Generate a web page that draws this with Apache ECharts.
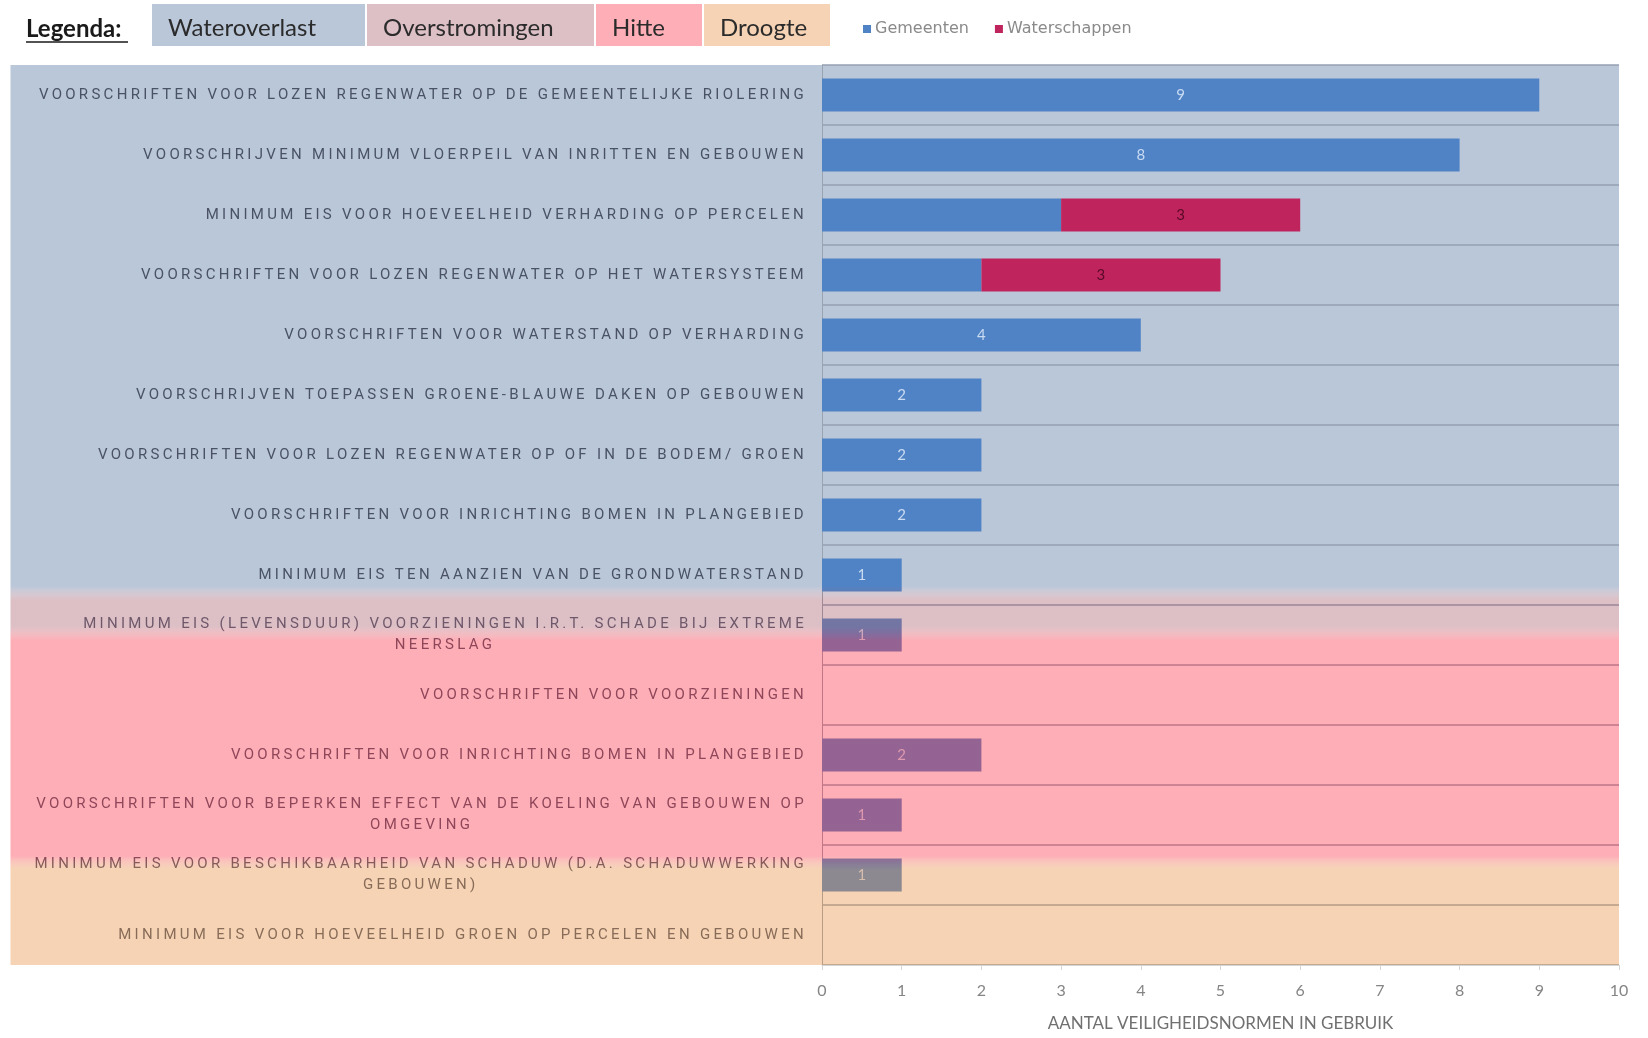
<!DOCTYPE html>
<html>
<head>
<meta charset="utf-8">
<script src="https://cdn.jsdelivr.net/npm/echarts@6/dist/echarts.min.js"></script>
<style>
  html, body { margin: 0; padding: 0; background: #ffffff; }
  #chart { width: 1648px; height: 1038px; }
</style>
</head>
<body>
<div id="chart"></div>
<script>
// ---- data ---------------------------------------------------------------
const categories = [
  'VOORSCHRIFTEN VOOR LOZEN REGENWATER OP DE GEMEENTELIJKE RIOLERING',
  'VOORSCHRIJVEN MINIMUM VLOERPEIL VAN INRITTEN EN GEBOUWEN',
  'MINIMUM EIS VOOR HOEVEELHEID VERHARDING OP PERCELEN',
  'VOORSCHRIFTEN VOOR LOZEN REGENWATER OP HET WATERSYSTEEM',
  'VOORSCHRIFTEN VOOR WATERSTAND OP VERHARDING',
  'VOORSCHRIJVEN TOEPASSEN GROENE-BLAUWE DAKEN OP GEBOUWEN',
  'VOORSCHRIFTEN VOOR LOZEN REGENWATER OP OF IN DE BODEM/ GROEN',
  'VOORSCHRIFTEN VOOR INRICHTING BOMEN IN PLANGEBIED',
  'MINIMUM EIS TEN AANZIEN VAN DE GRONDWATERSTAND',
  'MINIMUM EIS (LEVENSDUUR) VOORZIENINGEN I.R.T. SCHADE BIJ EXTREME NEERSLAG',
  'VOORSCHRIFTEN VOOR VOORZIENINGEN',
  'VOORSCHRIFTEN VOOR INRICHTING BOMEN IN PLANGEBIED',
  'VOORSCHRIFTEN VOOR BEPERKEN EFFECT VAN DE KOELING VAN GEBOUWEN OP OMGEVING',
  'MINIMUM EIS VOOR BESCHIKBAARHEID VAN SCHADUW (D.A. SCHADUWWERKING GEBOUWEN)',
  'MINIMUM EIS VOOR HOEVEELHEID GROEN OP PERCELEN EN GEBOUWEN'
];
const gemeenten     = [9, 8, 3, 2, 4, 2, 2, 2, 1, 1, 0, 2, 1, 1, 0];
const waterschappen = [0, 0, 3, 3, 0, 0, 0, 0, 0, 0, 0, 0, 0, 0, 0];
const seriesNames = ['Gemeenten', 'Waterschappen'];
const xMin = 0, xMax = 10, xStep = 1;
const xAxisTitle = 'AANTAL VEILIGHEIDSNORMEN IN GEBRUIK';

// climate themes and the rows (in category units) each one spans
const themeNames = ['Wateroverlast', 'Overstromingen', 'Hitte', 'Droogte'];
const themeRows  = [[0, 8.8], [8.8, 9.47], [9.47, 13.3], [13.3, 15]];
const legendTitle = 'Legenda:';

// ---- styling ------------------------------------------------------------
const themeFill  = ['#BAC7D9', 'rgba(167,97,112,0.4)', 'rgba(250,52,72,0.4)', 'rgba(230,145,67,0.4)'];
const themeOnTop = [false, true, true, true];
const barColors  = ['#5083C5', '#C0245C'];
const LABEL_FAMILY = 'Roboto';     // tracked-out category label face
const TRACKING = { 'Roboto': '3.3px' };

// Category labels are set in widely tracked capitals: give that face
// letter spacing for both measuring and drawing on canvas.
(function () {
  const proto = CanvasRenderingContext2D.prototype;
  if (!('letterSpacing' in proto)) return;
  const fill = proto.fillText, measure = proto.measureText;
  const track = function (ctx) {
    let ls = '0px';
    for (const fam in TRACKING) {
      if (ctx.font.indexOf(fam) >= 0) { ls = TRACKING[fam]; break; }
    }
    ctx.letterSpacing = ls;
  };
  proto.fillText = function () { track(this); return fill.apply(this, arguments); };
  proto.measureText = function () { track(this); return measure.apply(this, arguments); };
})();

// greedy word wrap at a fixed number of characters per line
function wrapLabel(text, maxChars) {
  const words = text.split(' ');
  const lines = [];
  let cur = '';
  words.forEach(function (w) {
    if (cur && (cur + ' ' + w).length > maxChars) { lines.push(cur); cur = w; }
    else { cur = cur ? cur + ' ' + w : w; }
  });
  if (cur) lines.push(cur);
  return lines;
}

const chart = echarts.init(document.getElementById('chart'), null, { renderer: 'canvas' });

const option = {
  animation: false,
  backgroundColor: '#ffffff',
  textStyle: { fontFamily: 'Lato' },
  legend: {
    data: seriesNames,
    left: 858, top: 16,
    icon: 'rect', itemWidth: 8, itemHeight: 8, itemGap: 26,
    textStyle: { color: '#8a8a8a', fontSize: 16, fontFamily: 'DejaVu Sans', padding: [0, 0, 0, -1] }
  },
  grid: { left: 822, right: 29, top: 65, bottom: 73, containLabel: false },
  xAxis: {
    type: 'value', min: xMin, max: xMax, interval: xStep,
    name: xAxisTitle, nameLocation: 'middle', nameGap: 50,
    nameTextStyle: { color: '#707070', fontSize: 17, fontFamily: 'Lato' },
    axisLine: { show: true, lineStyle: { color: '#d4d4d4' } },
    axisTick: { show: true, length: 5, lineStyle: { color: '#d4d4d4' } },
    axisLabel: { color: '#858585', fontSize: 16, margin: 18, fontFamily: 'Lato' },
    splitLine: { show: false }
  },
  yAxis: {
    type: 'category', inverse: true, data: categories,
    axisLine: { show: true, lineStyle: { color: '#9aa3b0' } },
    axisTick: { show: false },
    splitLine: { show: true, lineStyle: { color: '#95a0b1', width: 1.5 } },
    axisLabel: {
      interval: 0, margin: 15, align: 'right',
      fontFamily: LABEL_FAMILY, fontSize: 15, color: '#4a5366', lineHeight: 21,
      formatter: function (v) {
        return wrapLabel(v, 66).map(function (l) { return '{c|' + l + '}'; }).join('\n');
      },
      rich: {
        c: { align: 'center', fontFamily: LABEL_FAMILY, fontSize: 15, color: '#4a5366', lineHeight: 21 }
      }
    }
  },
  series: [
    {
      name: seriesNames[0], type: 'bar', stack: 'total', data: gemeenten,
      barWidth: 33, itemStyle: { color: barColors[0] },
      label: {
        show: true, position: 'inside', color: '#c9dbf2', fontSize: 15, fontFamily: 'Lato',
        formatter: function (p) {
          return (p.value === 0 || waterschappen[p.dataIndex] > 0) ? '' : String(p.value);
        }
      }
    },
    {
      name: seriesNames[1], type: 'bar', stack: 'total', data: waterschappen,
      barWidth: 33, itemStyle: { color: barColors[1] },
      label: {
        show: true, position: 'inside', color: '#5a0a28', fontSize: 15, fontFamily: 'Lato',
        formatter: function (p) { return p.value ? String(p.value) : ''; }
      }
    }
  ]
};
chart.setOption(option);

// ---- theme bands and the theme key ----------------------------------------
function bandFill(color, h, fadeTop, fadeBottom) {
  const clear = color.indexOf('rgba') === 0 ? color.replace(/[\d.]+\)$/, '0)') : 'rgba(186,199,217,0)';
  const stops = [];
  stops.push({ offset: 0, color: fadeTop ? clear : color });
  if (fadeTop) stops.push({ offset: fadeTop / h, color: color });
  if (fadeBottom) stops.push({ offset: 1 - fadeBottom / h, color: color });
  stops.push({ offset: 1, color: fadeBottom ? clear : color });
  return new echarts.graphic.LinearGradient(0, 0, 0, 1, stops);
}

function drawThemes() {
  const y0 = chart.convertToPixel({ yAxisIndex: 0 }, 0);
  const y1 = chart.convertToPixel({ yAxisIndex: 0 }, 1);
  const rowH = Math.abs(y1 - y0);
  const top = y0 - rowH / 2;
  const right = chart.convertToPixel({ xAxisIndex: 0 }, xMax);
  const left = 10.5;
  const fade = 14;
  const elements = [];

  themeRows.forEach(function (r, i) {
    const first = i === 0, last = i === themeRows.length - 1;
    const yA = top + r[0] * rowH - (first ? 0 : fade / 2);
    const yB = top + r[1] * rowH + (last ? 0 : fade / 2);
    const h = yB - yA;
    elements.push({
      type: 'rect', silent: true,
      z: themeOnTop[i] ? 100 : -100,
      shape: { x: left, y: yA, width: right - left, height: h },
      style: { fill: bandFill(themeFill[i], h, first ? 0 : fade, last ? 0 : fade) }
    });
  });

  // key: "Legenda:" followed by one swatch per theme
  elements.push({
    type: 'text', x: 26, y: 29,
    style: { text: legendTitle, fill: '#1a1a1a', fontSize: 24, fontWeight: 'bold', fontFamily: 'Lato', verticalAlign: 'middle' }
  });
  elements.push({
    type: 'line', shape: { x1: 26, y1: 42, x2: 128, y2: 42 },
    style: { stroke: '#1a1a1a', lineWidth: 1.5 }
  });
  const boxX = [152, 367, 596, 704];
  const boxW = [213, 227, 106, 126];
  themeNames.forEach(function (name, i) {
    elements.push({
      type: 'rect', shape: { x: boxX[i], y: 4, width: boxW[i], height: 42 },
      style: { fill: themeFill[i] }
    });
    elements.push({
      type: 'text', x: boxX[i] + 16, y: 28,
      style: { text: name, fill: '#2b2b2b', fontSize: 24, fontFamily: 'Lato', verticalAlign: 'middle' }
    });
  });

  chart.setOption({ graphic: { elements: elements } });
}
drawThemes();
</script>
</body>
</html>
